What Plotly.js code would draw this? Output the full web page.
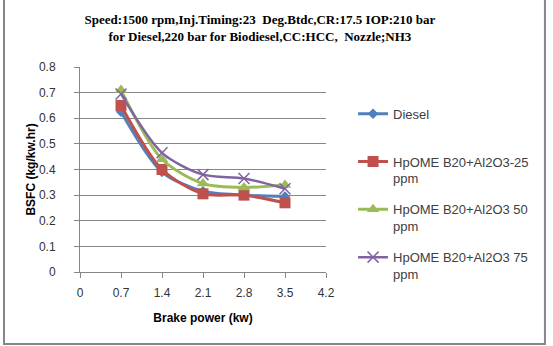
<!DOCTYPE html>
<html>
<head>
<meta charset="utf-8">
<script src="https://cdn.plot.ly/plotly-3.0.1.min.js"></script>
<style>
  html, body { margin: 0; padding: 0; background: #fff; }
  #chart { width: 553px; height: 346px; }
</style>
</head>
<body>
<div id="chart"></div>
<script>
// Brake power (kW) and BSFC (kg/kW.hr) per fuel blend
const brakePower = [0.7, 1.4, 2.1, 2.8, 3.5];
const xTicks = [0, 0.7, 1.4, 2.1, 2.8, 3.5, 4.2];
const xTickText = ["0", "0.7", "1.4", "2.1", "2.8", "3.5", "4.2"];

const diesel = [0.625, 0.39, 0.315, 0.30, 0.295];
const al2o3_25 = [0.65, 0.40, 0.305, 0.30, 0.27];
const al2o3_50 = [0.71, 0.44, 0.345, 0.33, 0.34];
const al2o3_75 = [0.695, 0.465, 0.38, 0.365, 0.325];

const seriesNames = [
  "Diesel<br> ",
  "HpOME B20+Al2O3-25<br>ppm",
  "HpOME B20+Al2O3 50<br>ppm",
  "HpOME B20+Al2O3 75<br>ppm"
];

const font = "Liberation Sans, Arial, sans-serif";

function series(name, y, color, symbol, size, width, group) {
  return {
    x: brakePower, y: y, name: name, legendgroup: group,
    type: "scatter", mode: "lines+markers",
    line: { color: color, width: width, shape: "spline", smoothing: 0.8 },
    marker: { color: color, symbol: symbol, size: size,
              line: { color: color, width: symbol === "x-thin" ? 1.5 : 0 } }
  };
}

const traces = [
  series(seriesNames[0], diesel, "#4F81BD", "diamond", 8, 3, "a"),
  series(seriesNames[1], al2o3_25, "#C0504D", "square", 11, 3, "b"),
  series(seriesNames[2], al2o3_50, "#9BBB59", "triangle-up", 11, 3, "c"),
  series(seriesNames[3], al2o3_75, "#8064A2", "x-thin", 11, 2.5, "d")
];

const layout = {
  width: 553, height: 346,
  margin: { l: 80, r: 227, t: 67, b: 74 },
  paper_bgcolor: "#fff", plot_bgcolor: "#fff",
  showlegend: true,
  title: {
    text: "Speed:1500 rpm,Inj.Timing:23  Deg.Btdc,CR:17.5 IOP:210 bar<br>for Diesel,220 bar for Biodiesel,CC:HCC,  Nozzle;NH3",
    font: { family: "Liberation Serif, Times New Roman, serif", size: 13, color: "#000", weight: "bold" },
    xref: "container", x: 0.47, xanchor: "center",
    yref: "container", y: 0.93, yanchor: "top"
  },
  xaxis: {
    range: [0, 4.2], tickvals: xTicks, ticktext: xTickText,
    showgrid: false, zeroline: false,
    showline: true, linecolor: "#868686", linewidth: 1,
    ticks: "outside", ticklen: 5, tickcolor: "#868686",
    ticklabelstandoff: 5,
    tickfont: { family: font, size: 12, color: "#333" },
    title: { text: "Brake power (kw)", standoff: 14,
             font: { family: font, size: 12, color: "#000", weight: "bold" } },
    fixedrange: true
  },
  yaxis: {
    range: [0, 0.8], dtick: 0.1, tickformat: ".1~f",
    showgrid: true, gridcolor: "#868686", gridwidth: 1,
    zeroline: false,
    showline: true, linecolor: "#868686", linewidth: 1,
    ticks: "outside", ticklen: 5, tickcolor: "#868686",
    ticklabelstandoff: 16,
    tickfont: { family: font, size: 12, color: "#333" },
    title: { text: "BSFC (kg/kw.hr)", standoff: 0,
             font: { family: font, size: 12, color: "#000", weight: "bold" } },
    fixedrange: true
  },
  legend: {
    x: 1.11, xanchor: "left", y: 0.845, yanchor: "top",
    valign: "top", tracegroupgap: 11, itemwidth: 30,
    font: { family: font, size: 13, color: "#404040" },
    bgcolor: "rgba(0,0,0,0)"
  },
  shapes: [{
    type: "rect", xref: "paper", yref: "paper",
    x0: -0.309, x1: 1.89, y0: -0.351, y1: 1.4,
    line: { color: "#868686", width: 2 }, fillcolor: "rgba(0,0,0,0)", layer: "below"
  }]
};

Plotly.newPlot("chart", traces, layout, { displayModeBar: false, staticPlot: true });
</script>
</body>
</html>
